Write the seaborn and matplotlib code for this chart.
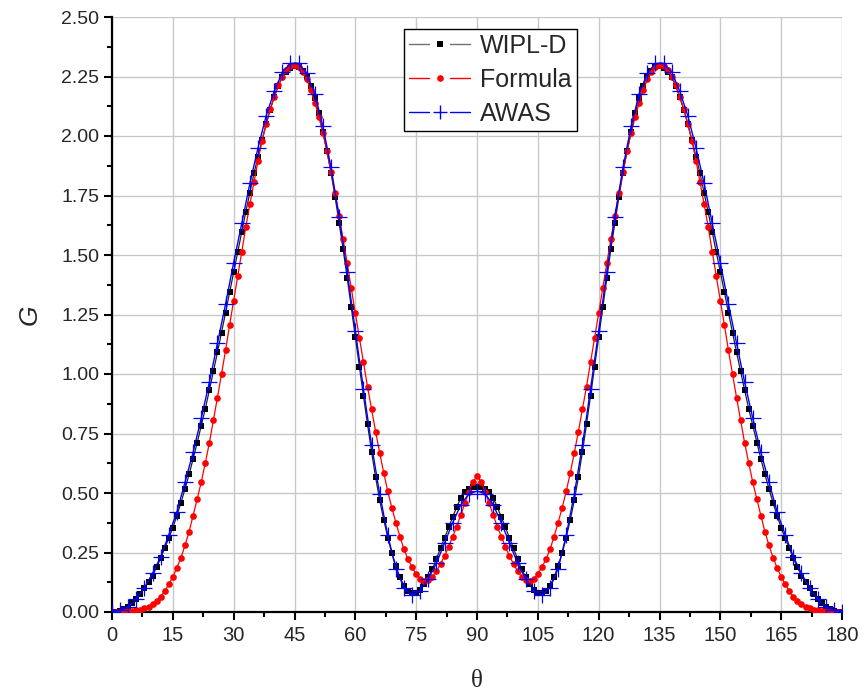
import matplotlib
matplotlib.use("Agg")
import matplotlib.pyplot as plt
import seaborn as sns
from matplotlib.lines import Line2D
from matplotlib.legend_handler import HandlerBase
from matplotlib.ticker import MultipleLocator, FormatStrFormatter

# ---------------- data ----------------
theta = list(range(0, 181))          # degrees, 1 deg step
theta_awas = list(range(0, 181, 2))  # AWAS sampled every 2 deg

wipl_d = [
    0.000, 0.002, 0.005, 0.011, 0.022, 0.036, 0.055, 0.076, 0.100, 0.126,
    0.153, 0.188, 0.226, 0.268, 0.310, 0.354, 0.405, 0.459, 0.517, 0.578,
    0.643, 0.711, 0.783, 0.854, 0.931, 1.011, 1.091, 1.174, 1.258, 1.343,
    1.430, 1.511, 1.598, 1.682, 1.762, 1.843, 1.913, 1.983, 2.049, 2.110,
    2.163, 2.210, 2.249, 2.270, 2.287, 2.294, 2.290, 2.275, 2.249, 2.210,
    2.158, 2.095, 2.018, 1.935, 1.846, 1.745, 1.636, 1.524, 1.402, 1.280,
    1.154, 1.031, 0.908, 0.789, 0.674, 0.566, 0.470, 0.388, 0.313, 0.248,
    0.193, 0.146, 0.110, 0.088, 0.078, 0.078, 0.093, 0.116, 0.146, 0.180,
    0.223, 0.267, 0.311, 0.356, 0.398, 0.442, 0.478, 0.503, 0.517, 0.525,
    0.527,
    0.525, 0.517, 0.503, 0.478, 0.442, 0.398, 0.356, 0.311, 0.267, 0.223,
    0.180, 0.146, 0.116, 0.093, 0.078, 0.078, 0.088, 0.110, 0.146, 0.193,
    0.248, 0.313, 0.388, 0.470, 0.566, 0.674, 0.789, 0.908, 1.031, 1.154,
    1.280, 1.402, 1.524, 1.636, 1.745, 1.846, 1.935, 2.018, 2.095, 2.158,
    2.210, 2.249, 2.275, 2.290, 2.294, 2.287, 2.270, 2.249, 2.210, 2.163,
    2.110, 2.049, 1.983, 1.913, 1.843, 1.762, 1.682, 1.598, 1.511, 1.430,
    1.343, 1.258, 1.174, 1.091, 1.011, 0.931, 0.854, 0.783, 0.711, 0.643,
    0.578, 0.517, 0.459, 0.405, 0.354, 0.310, 0.268, 0.226, 0.188, 0.153,
    0.126, 0.100, 0.076, 0.055, 0.036, 0.022, 0.011, 0.005, 0.002, 0.000,
]

formula = [
    0.000, 0.000, 0.001, 0.002, 0.003, 0.005, 0.007, 0.010, 0.016, 0.023,
    0.034, 0.047, 0.064, 0.088, 0.116, 0.148, 0.186, 0.228, 0.280, 0.337,
    0.405, 0.475, 0.545, 0.626, 0.710, 0.805, 0.901, 0.999, 1.099, 1.206,
    1.308, 1.412, 1.514, 1.619, 1.714, 1.805, 1.896, 1.980, 2.049, 2.112,
    2.165, 2.214, 2.250, 2.278, 2.294, 2.300, 2.292, 2.270, 2.238, 2.192,
    2.140, 2.080, 2.012, 1.937, 1.850, 1.759, 1.665, 1.566, 1.465, 1.360,
    1.255, 1.153, 1.049, 0.947, 0.852, 0.758, 0.669, 0.585, 0.507, 0.438,
    0.375, 0.317, 0.263, 0.221, 0.188, 0.160, 0.139, 0.130, 0.134, 0.148,
    0.172, 0.202, 0.235, 0.274, 0.317, 0.359, 0.408, 0.457, 0.505, 0.548,
    0.570,
    0.548, 0.505, 0.457, 0.408, 0.359, 0.317, 0.274, 0.235, 0.202, 0.172,
    0.148, 0.134, 0.130, 0.139, 0.160, 0.188, 0.221, 0.263, 0.317, 0.375,
    0.438, 0.507, 0.585, 0.669, 0.758, 0.852, 0.947, 1.049, 1.153, 1.255,
    1.360, 1.465, 1.566, 1.665, 1.759, 1.850, 1.937, 2.012, 2.080, 2.140,
    2.192, 2.238, 2.270, 2.292, 2.300, 2.294, 2.278, 2.250, 2.214, 2.165,
    2.112, 2.049, 1.980, 1.896, 1.805, 1.714, 1.619, 1.514, 1.412, 1.308,
    1.206, 1.099, 0.999, 0.901, 0.805, 0.710, 0.626, 0.545, 0.475, 0.405,
    0.337, 0.280, 0.228, 0.186, 0.148, 0.116, 0.088, 0.064, 0.047, 0.034,
    0.023, 0.016, 0.010, 0.007, 0.005, 0.003, 0.002, 0.001, 0.000, 0.000,
]

awas = [
    0.000, 0.008, 0.022, 0.055, 0.102, 0.162, 0.232, 0.324, 0.421, 0.545,
    0.671, 0.814, 0.965, 1.129, 1.294, 1.468, 1.633, 1.801, 1.950, 2.084,
    2.188, 2.268, 2.305, 2.305, 2.263, 2.178, 2.041, 1.868, 1.661, 1.427,
    1.181, 0.937, 0.702, 0.496, 0.322, 0.182, 0.102, 0.071, 0.090, 0.140,
    0.205, 0.290, 0.375, 0.450, 0.497, 0.508,
    0.497, 0.450, 0.375, 0.290, 0.205, 0.140, 0.090, 0.071, 0.102, 0.182,
    0.322, 0.496, 0.702, 0.937, 1.181, 1.427, 1.661, 1.868, 2.041, 2.178,
    2.263, 2.305, 2.305, 2.268, 2.188, 2.084, 1.950, 1.801, 1.633, 1.468,
    1.294, 1.129, 0.965, 0.814, 0.671, 0.545, 0.421, 0.324, 0.232, 0.162,
    0.102, 0.055, 0.022, 0.008, 0.000,
]

series_names = ["WIPL-D", "Formula", "AWAS"]
x_ticks = list(range(0, 181, 15))
y_ticks = [0.0, 0.25, 0.5, 0.75, 1.0, 1.25, 1.5, 1.75, 2.0, 2.25, 2.5]

# ---------------- style ----------------
sns.set_style("ticks")
plt.rcParams["font.family"] = ["Liberation Sans", "DejaVu Sans"]

fig = plt.figure(figsize=(8.65, 6.98), dpi=100)
ax = fig.add_axes([112 / 865, 1 - 612 / 698, (842 - 112) / 865, (612 - 17) / 698])

styles = {
    "WIPL-D": dict(line="#707070", color="black", marker="s", ms=4.0, mew=0),
    "Formula": dict(line="red", color="red", marker="o", ms=4.8, mew=0),
    "AWAS": dict(line="blue", color="blue", marker="+", ms=10, mew=1.0),
}

sns.lineplot(x=theta, y=wipl_d, ax=ax, color="#202020", linewidth=0.9,
             marker="s", markersize=4.0, markeredgewidth=0,
             markerfacecolor="black", zorder=3, legend=False)
sns.lineplot(x=theta, y=formula, ax=ax, color="red", linewidth=0.9,
             marker="o", markersize=4.8, markeredgewidth=0,
             markerfacecolor="red", zorder=4, legend=False)
sns.lineplot(x=theta_awas, y=awas, ax=ax, color="blue", linewidth=1.0,
             marker="+", markersize=11, markeredgewidth=0.9,
             markeredgecolor="blue", zorder=5, legend=False)

ax.set_xlim(0, 180)
ax.set_ylim(0, 2.5)
ax.set_xticks(x_ticks)
ax.set_yticks(y_ticks)
ax.xaxis.set_minor_locator(MultipleLocator(7.5))
ax.yaxis.set_minor_locator(MultipleLocator(0.125))
ax.yaxis.set_major_formatter(FormatStrFormatter("%.2f"))

ax.grid(True, which="major", color="#c8c8c8", linewidth=1.0)
ax.set_axisbelow(True)
for s in ["top", "right"]:
    ax.spines[s].set_visible(False)
for s in ["left", "bottom"]:
    ax.spines[s].set_linewidth(1.6)
    ax.spines[s].set_color("black")

ax.tick_params(axis="both", which="major", direction="out", length=6,
               width=1.5, color="black")
ax.tick_params(axis="both", which="minor", direction="out", length=3.5,
               width=1.5, color="black")
ax.tick_params(axis="y", labelsize=14, pad=3)
ax.tick_params(axis="x", labelsize=14.5, pad=4)

ax.set_ylabel("G", fontsize=19, style="italic", labelpad=14)
ax.set_xlabel("θ", fontsize=18, family=["Liberation Serif", "DejaVu Serif"],
              labelpad=18)


# legend: line — marker — line
class GapHandler(HandlerBase):
    def __init__(self, st):
        super().__init__()
        self.st = st

    def create_artists(self, legend, orig_handle, xdescent, ydescent,
                       width, height, fontsize, trans):
        st = self.st
        y = height / 2 - ydescent
        x0 = -xdescent
        x1 = x0 + width
        seg = width * 0.33
        a = Line2D([x0, x0 + seg], [y, y], color=st["line"], lw=1.0)
        b = Line2D([x1 - seg, x1], [y, y], color=st["line"], lw=1.0)
        m = Line2D([x0 + width / 2], [y], color=st["color"], linestyle="none",
                   marker=st["marker"], markersize=st["ms"],
                   markeredgewidth=st["mew"], markeredgecolor=st["color"])
        for art in (a, b, m):
            art.set_transform(trans)
        return [a, b, m]


handles = [Line2D([], []) for _ in series_names]
hmap = {h: GapHandler(styles[n]) for h, n in zip(handles, series_names)}
leg = ax.legend(handles, series_names, handler_map=hmap,
                loc="upper left", bbox_to_anchor=(404 / 865, 1 - 29 / 698),
                bbox_transform=fig.transFigure, fontsize=18,
                handlelength=2.45, handletextpad=0.4, borderpad=0.2,
                labelspacing=0.4, fancybox=False, framealpha=1,
                edgecolor="black", borderaxespad=0)
leg.get_frame().set_linewidth(1.0)

fig.savefig("out.png", dpi=100)
